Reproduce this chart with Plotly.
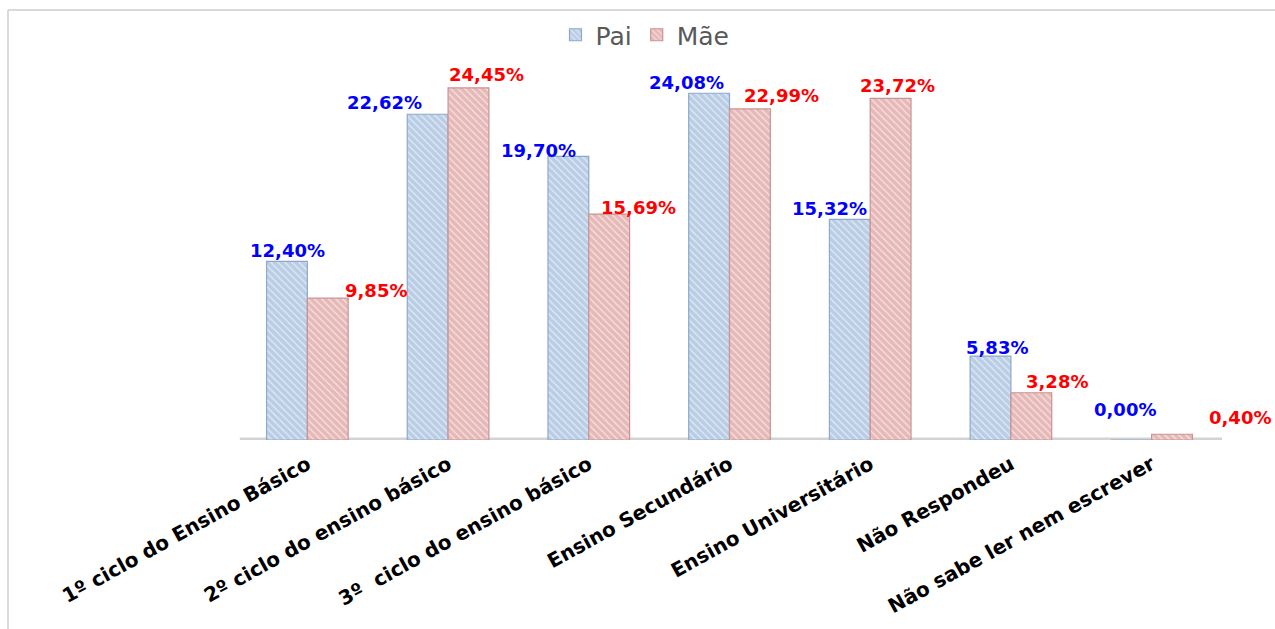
import plotly.graph_objects as go
import numpy as np

categories = [
    "1º ciclo do Ensino Básico",
    "2º ciclo do ensino básico",
    "3º  ciclo do ensino básico",
    "Ensino Secundário",
    "Ensino Universitário",
    "Não Respondeu",
    "Não sabe ler nem escrever",
]
pai = [12.40, 22.62, 19.70, 24.08, 15.32, 5.83, 0.00]
mae = [9.85, 24.45, 15.69, 22.99, 23.72, 3.28, 0.40]
pai_labels = ["12,40%", "22,62%", "19,70%", "24,08%", "15,32%", "5,83%", "0,00%"]
mae_labels = ["9,85%", "24,45%", "15,69%", "22,99%", "23,72%", "3,28%", "0,40%"]

# style: label offsets (pixels)
pai_xshift = [1, -43, -30, -23, -20, 6, -6]
pai_yshift = [11, 12, 6, 11, 11, 9, 31]
mae_xshift = [48, 18, 29, 32, 7, 26, 68]
mae_yshift = [8, 13, 7, 13, 13, 11, 17]

W, H = 1275, 629
ML, MR, MT, MB = 237, 53, 80, 189
BW = 0.29
x = np.arange(len(categories))

fig = go.Figure()
fig.add_trace(go.Bar(
    name="Pai", x=x, y=pai, width=BW, offset=-BW,
    marker=dict(color="#B9CDE5", line=dict(color="#8FA9C9", width=1.2),
                pattern=dict(shape="\\", fgcolor="#FFFFFF", size=5, solidity=0.25, fgopacity=0.6)),
    hoverinfo="skip",
))
fig.add_trace(go.Bar(
    name="Mãe", x=x, y=mae, width=BW, offset=0,
    marker=dict(color="#E6B9B8", line=dict(color="#C99392", width=1.2),
                pattern=dict(shape="\\", fgcolor="#FFFFFF", size=5, solidity=0.25, fgopacity=0.6)),
    hoverinfo="skip",
))

annotations = []
for i in range(len(categories)):
    annotations.append(dict(x=i - BW / 2, y=pai[i], xref="x", yref="y", text=pai_labels[i],
                            showarrow=False, xanchor="center", yanchor="middle",
                            xshift=pai_xshift[i], yshift=pai_yshift[i],
                            font=dict(family="DejaVu Sans", size=18, color="#0000FF", weight="bold")))
    annotations.append(dict(x=i + BW / 2, y=mae[i], xref="x", yref="y", text=mae_labels[i],
                            showarrow=False, xanchor="center", yanchor="middle",
                            xshift=mae_xshift[i], yshift=mae_yshift[i],
                            font=dict(family="DejaVu Sans", size=18, color="#FF0000", weight="bold")))

pw = W - ML - MR
ph = H - MT - MB
def px_x(p):
    return (p - ML) / pw
def px_y(p):
    return (H - MB - p) / ph

shapes = [
    # floor
    dict(type="line", xref="x", yref="y", x0=-0.48, x1=6.5, y0=0, y1=0,
         line=dict(color="#D3D3D3", width=5), layer="below"),
    # chart frame
    dict(type="line", xref="paper", yref="paper", x0=px_x(8), x1=px_x(W), y0=px_y(10), y1=px_y(10),
         line=dict(color="#D9D9D9", width=2)),
    dict(type="line", xref="paper", yref="paper", x0=px_x(8), x1=px_x(8), y0=px_y(10), y1=px_y(H),
         line=dict(color="#D9D9D9", width=2)),
]

fig.update_layout(
    width=W, height=H,
    margin=dict(l=ML, r=MR, t=MT, b=MB),
    plot_bgcolor="white", paper_bgcolor="white",
    barmode="overlay",
    showlegend=True,
    legend=dict(orientation="h", x=px_x(645), xanchor="center", y=px_y(35), yanchor="middle",
                font=dict(family="DejaVu Sans", size=25, color="#595959"),
                itemwidth=30, tracegroupgap=0),
    xaxis=dict(range=[-0.5, 6.5], tickvals=list(x), ticktext=categories, tickangle=-29,
               showgrid=False, zeroline=False, showline=False, ticks="",
               ticklabelstandoff=8,
               tickfont=dict(family="DejaVu Sans", size=20, color="#000000", weight="bold")),
    yaxis=dict(range=[0, 25], visible=False, showgrid=False, zeroline=False),
    annotations=annotations,
    shapes=shapes,
)

fig.write_html("out.html")
